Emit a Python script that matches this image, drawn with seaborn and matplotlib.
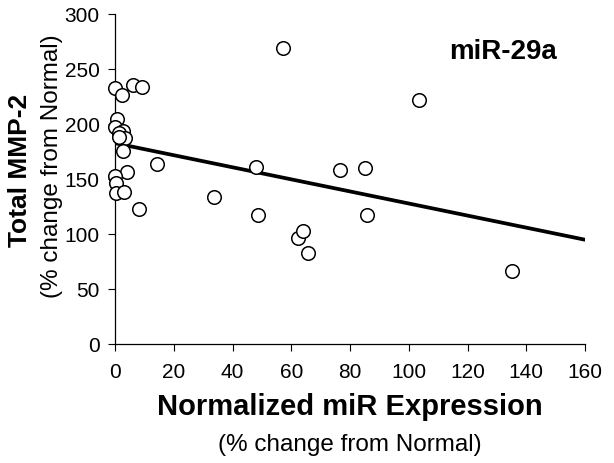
import numpy as np
import pandas as pd
import matplotlib
matplotlib.use("Agg")
import matplotlib.pyplot as plt
import seaborn as sns

# values
mir_expr = [0.0, 6.0, 9.1, 2.3, 0.8, 0.0, 2.8, 1.4, 3.4, 1.2,
            2.8, 14.2, 4.0, 0.0, 0.2, 0.2, 3.0, 8.3, 33.7, 47.9,
            48.7, 57.3, 62.3, 64.1, 65.8, 76.6, 85.1, 85.7, 103.4, 135.3]
mmp2 = [232.4, 235.5, 233.9, 226.7, 204.5, 197.6, 194.0, 191.8, 187.0, 188.0,
        175.2, 163.9, 156.0, 153.0, 146.4, 137.0, 138.0, 122.7, 133.6, 160.9,
        117.3, 269.0, 96.4, 102.7, 82.7, 158.2, 160.0, 117.6, 221.8, 66.0]
x_ticks = [0, 20, 40, 60, 80, 100, 120, 140, 160]
y_ticks = [0, 50, 100, 150, 200, 250, 300]

df = pd.DataFrame({"mir": mir_expr, "mmp": mmp2})

sns.set_style("ticks")
plt.rcParams["font.family"] = ["Liberation Sans", "DejaVu Sans"]
plt.rcParams["text.color"] = "black"
plt.rcParams["xtick.color"] = "black"
plt.rcParams["ytick.color"] = "black"

fig = plt.figure(figsize=(6.14, 4.64), dpi=100)
ax = fig.add_axes([0.1873, 0.2565, 0.7655, 0.7112])

ax.set_xlim(0, 160)
ax.set_ylim(0, 300)

# linear trend line fitted on the points
sns.regplot(data=df, x="mir", y="mmp", ax=ax, ci=None, truncate=False,
            scatter=False, line_kws={"color": "black", "lw": 2.7})
sns.scatterplot(data=df, x="mir", y="mmp", ax=ax, s=95, color="white",
                edgecolor="black", linewidth=1.1, zorder=3, clip_on=False)

ax.set_xlim(0, 160)
ax.set_ylim(0, 300)
ax.set_xticks(x_ticks)
ax.set_yticks(y_ticks)
ax.tick_params(labelsize=15, length=5, width=0.8, colors="black")
ax.tick_params(axis="x", pad=8)
ax.tick_params(axis="y", pad=6)
for s in ["left", "bottom"]:
    ax.spines[s].set_linewidth(0.9)
    ax.spines[s].set_color("black")
sns.despine(ax=ax)
ax.set_xlabel("")
ax.set_ylabel("")

ax.text(0.826, 0.888, "miR-29a", transform=ax.transAxes, ha="center",
        va="center", fontsize=20, fontweight="bold")

fig.text(350 / 614, 1 - 407 / 464, "Normalized miR Expression", ha="center",
         va="center", fontsize=21, fontweight="bold")
fig.text(350 / 614, 1 - 445 / 464, "(% change from Normal)", ha="center",
         va="center", fontsize=17.5)
fig.text(20 / 614, 1 - 170 / 464, "Total MMP-2", ha="center", va="center",
         rotation=90, fontsize=19, fontweight="bold")
fig.text(52 / 614, 1 - 166 / 464, "(% change from Normal)", ha="center",
         va="center", rotation=90, fontsize=17.5)

fig.savefig("out.png", dpi=100)
